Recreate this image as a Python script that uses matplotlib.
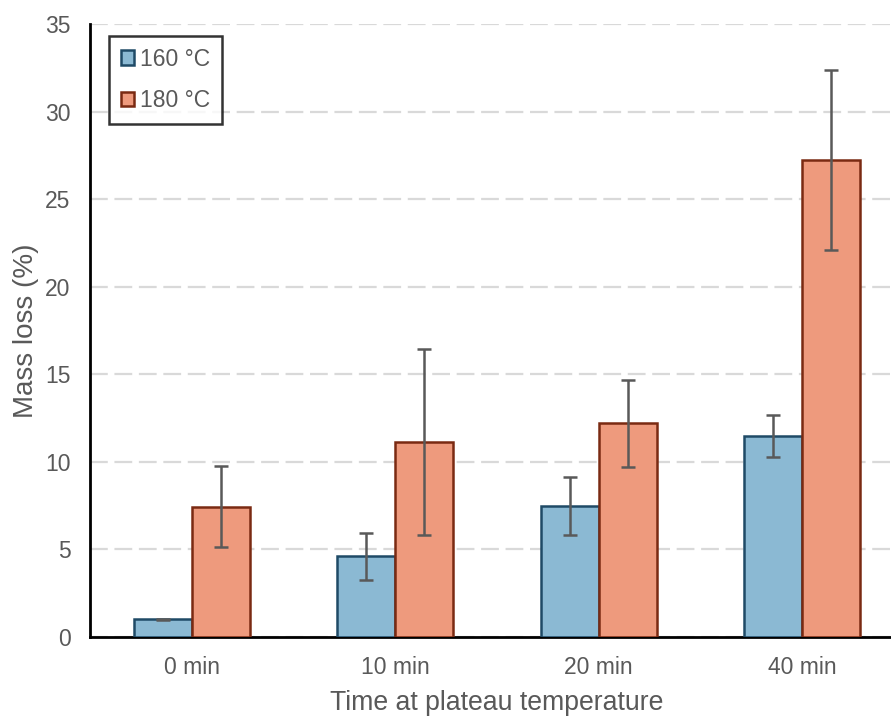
import matplotlib
matplotlib.use("Agg")
import matplotlib.pyplot as plt
import numpy as np

plt.rcParams['font.family'] = ['Liberation Sans', 'DejaVu Sans']

categories = ["0 min", "10 min", "20 min", "40 min"]
series_names = ["160 °C", "180 °C"]
mass_160 = [1.0, 4.6, 7.5, 11.45]
err_160 = [0.05, 1.35, 1.65, 1.2]
mass_180 = [7.45, 11.15, 12.2, 27.25]
err_180 = [2.3, 5.3, 2.5, 5.15]
yticks = [0, 5, 10, 15, 20, 25, 30, 35]

fig = plt.figure(figsize=(8.91, 7.16), dpi=100)
ax = fig.add_axes([90/891, (716-637)/716, (904-90)/891, (637-24)/716])

x = np.arange(len(categories))
w = 0.285
gray = '#595959'
ax.bar(x - w/2, mass_160, w, color='#8BB9D3', edgecolor='#1F4A66', linewidth=1.8,
       label=series_names[0], zorder=3)
ax.bar(x + w/2, mass_180, w, color='#EE9A7D', edgecolor='#7A2A12', linewidth=1.8,
       label=series_names[1], zorder=3)
ax.errorbar(x - w/2, mass_160, yerr=err_160, fmt='none', ecolor=gray, elinewidth=1.8,
            capsize=5, capthick=1.8, zorder=4)
ax.errorbar(x + w/2, mass_180, yerr=err_180, fmt='none', ecolor=gray, elinewidth=1.8,
            capsize=5, capthick=1.8, zorder=4)

ax.set_xlim(-0.5, 3.5)
ax.set_ylim(0, 35)
ax.set_yticks(yticks)
ax.set_xticks(x)
ax.set_xticklabels(categories)
ax.yaxis.grid(True, color='#D9D9D9', linestyle=(0, (8, 3)), linewidth=1.6, zorder=0)
ax.set_axisbelow(True)
for s in ['top', 'right']:
    ax.spines[s].set_visible(False)
ax.spines['left'].set_linewidth(2)
ax.spines['bottom'].set_linewidth(2)
ax.tick_params(axis='both', length=0, labelsize=16.5, labelcolor=gray)
ax.tick_params(axis='x', pad=14)
ax.tick_params(axis='y', pad=14)
ax.set_ylabel("Mass loss (%)", fontsize=20, color=gray, labelpad=4)
ax.set_xlabel("Time at plateau temperature", fontsize=19.2, color=gray, labelpad=7.5)

leg = ax.legend(loc='upper left', bbox_to_anchor=(0.0234, 0.98), fontsize=16.5,
                frameon=True, fancybox=False, edgecolor='black', handlelength=0.6,
                handleheight=0.6, handletextpad=0.25, labelspacing=0.8, borderpad=0.5,
                borderaxespad=0, labelcolor=gray)
leg.get_frame().set_linewidth(1.8)

fig.savefig("out.png", dpi=100)
